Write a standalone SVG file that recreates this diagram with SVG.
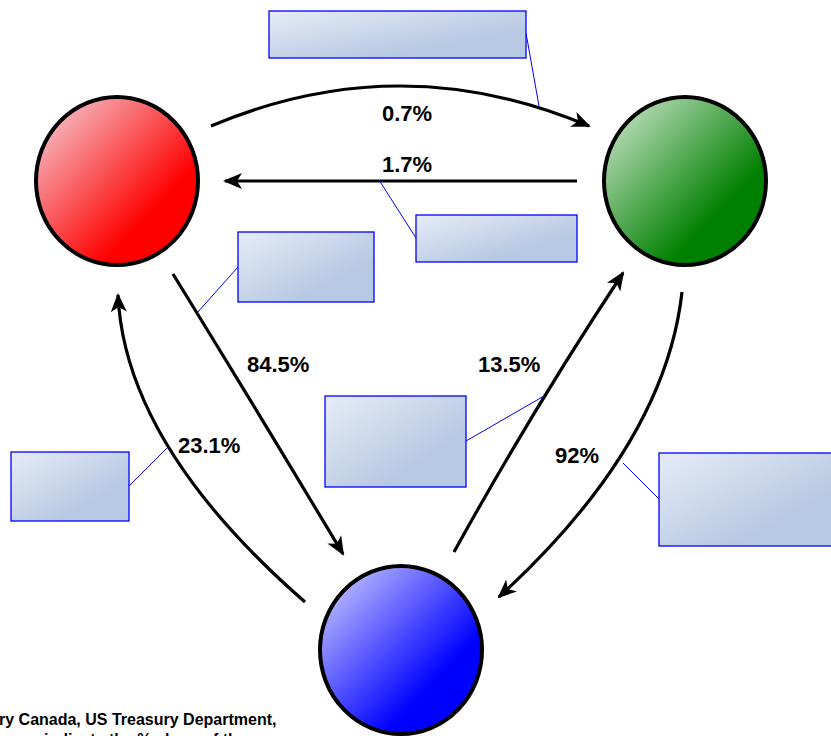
<svg xmlns="http://www.w3.org/2000/svg" width="831" height="736" viewBox="0 0 831 736">
<defs>
<linearGradient id="gRed" x1="0" y1="0" x2="1" y2="1">
<stop offset="0" stop-color="#f4d8e0"/><stop offset="0.7" stop-color="#ff0000"/><stop offset="1" stop-color="#ff0000"/>
</linearGradient>
<linearGradient id="gGreen" x1="0" y1="0" x2="1" y2="1">
<stop offset="0" stop-color="#d8ecd8"/><stop offset="0.7" stop-color="#008000"/><stop offset="1" stop-color="#008000"/>
</linearGradient>
<linearGradient id="gBlue" x1="0" y1="0" x2="1" y2="1">
<stop offset="0" stop-color="#d8d8ff"/><stop offset="0.7" stop-color="#0000ff"/><stop offset="1" stop-color="#0000ff"/>
</linearGradient>
<linearGradient id="gBox" x1="0" y1="0" x2="1" y2="1">
<stop offset="0" stop-color="#e6ecf7"/><stop offset="0.7" stop-color="#b8c9e3"/><stop offset="1" stop-color="#b8c9e3"/>
</linearGradient>
<marker id="arr" markerUnits="userSpaceOnUse" markerWidth="24" markerHeight="20" viewBox="-20 -10 24 20" refX="0" refY="0" orient="auto">
<path d="M2,0 L-17,-8 L-12,0 L-17,8 Z" fill="#000"/>
</marker>
</defs>
<style>
.node{stroke:#000;stroke-width:4}
.box{fill:url(#gBox);stroke:#0000ff;stroke-width:1.3}
.flow{fill:none;stroke:#000;stroke-width:3.2;marker-end:url(#arr)}
.lead{stroke:#0000ff;stroke-width:1;fill:none}
.lbl{font-family:"Liberation Sans",Arial,sans-serif;font-weight:bold;font-size:22px;fill:#000}
.note{font-family:"Liberation Sans",Arial,sans-serif;font-weight:bold;font-size:16px;fill:#000}
</style>
<g id="node-red"><ellipse class="node" cx="117" cy="181" rx="81" ry="84" fill="url(#gRed)"/></g>
<g id="node-green"><ellipse class="node" cx="685" cy="181" rx="81" ry="84" fill="url(#gGreen)"/></g>
<g id="node-blue"><ellipse class="node" cx="401" cy="650" rx="81" ry="84" fill="url(#gBlue)"/></g>
<g id="connectors">
<path class="flow" d="M211,126 Q400,46 589,126"/>
<path class="flow" d="M577,181 L225,181"/>
<path class="flow" d="M173,274 Q258,412 343,554"/>
<path class="flow" d="M454,552 Q533,409 623,273"/>
<path class="flow" d="M682,292 Q665,445 499,597"/>
<path class="flow" d="M305,602 Q125,445 118,295"/>
<line class="lead" x1="526" y1="33" x2="539" y2="106"/>
<line class="lead" x1="416" y1="238" x2="379" y2="180"/>
<line class="lead" x1="238" y1="267" x2="197" y2="313"/>
<line class="lead" x1="129" y1="486" x2="167" y2="448"/>
<line class="lead" x1="466" y1="441" x2="544" y2="396"/>
<line class="lead" x1="659" y1="499" x2="623" y2="463"/>
</g>
<g id="box-top"><rect class="box" x="269" y="11" width="257" height="47"/></g>
<g id="box-right-upper"><rect class="box" x="416" y="215" width="161" height="47"/></g>
<g id="box-left-upper"><rect class="box" x="238" y="232" width="136" height="70"/></g>
<g id="box-left"><rect class="box" x="11" y="452" width="118" height="69"/></g>
<g id="box-middle"><rect class="box" x="325" y="396" width="141" height="91"/></g>
<g id="box-right"><rect class="box" x="659" y="453" width="180" height="93"/></g>
<g id="labels">
<text class="lbl" x="382" y="121">0.7%</text>
<text class="lbl" x="382" y="172">1.7%</text>
<text class="lbl" x="247" y="372">84.5%</text>
<text class="lbl" x="478" y="372">13.5%</text>
<text class="lbl" x="178" y="453">23.1%</text>
<text class="lbl" x="555" y="463">92%</text>
</g>
<g id="note">
<text class="note" x="-1" y="725">ry Canada, US Treasury Department,</text>
<text class="note" x="44" y="745">indicate the % share of the</text>
</g>
</svg>
